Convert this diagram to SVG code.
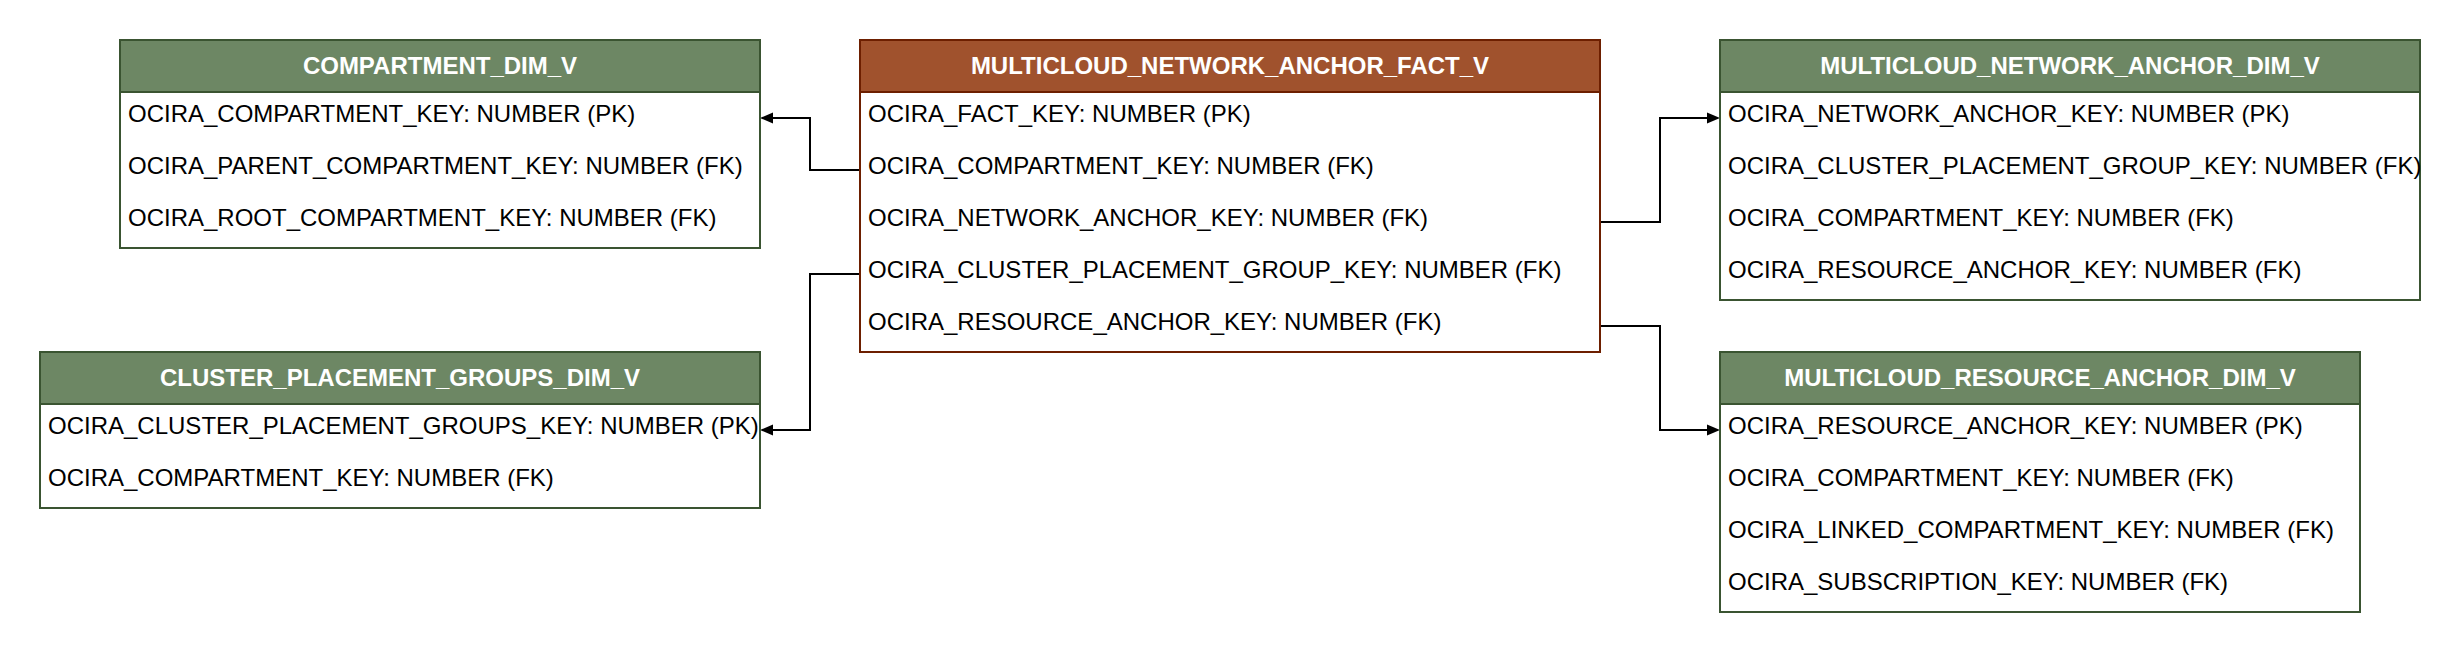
<svg xmlns="http://www.w3.org/2000/svg" width="2460" height="652" viewBox="0 0 2460 652">
<style>
  .box { fill: #ffffff; stroke-width: 2; }
  .dim { stroke: #3a5431; }
  .dimh { fill: #6d8764; stroke: #3a5431; stroke-width: 2; }
  .fact { stroke: #6d1f00; }
  .facth { fill: #a0522d; stroke: #6d1f00; stroke-width: 2; }
  .title { font-family: "Liberation Sans", Arial, Helvetica, sans-serif; font-size: 24px; font-weight: bold; fill: #ffffff; text-anchor: middle; }
  .row { font-family: "Liberation Sans", Arial, Helvetica, sans-serif; font-size: 24px; fill: #000000; }
  .conn { fill: none; stroke: #000000; stroke-width: 2; }
</style>
<defs>
  <marker id="arrow" markerUnits="userSpaceOnUse" markerWidth="14" markerHeight="12" refX="0" refY="6" orient="auto">
    <path d="M0,0.5 L13,6 L0,11.5 z" fill="#000000"/>
  </marker>
</defs>
<rect width="2460" height="652" fill="#ffffff"/>

<g id="connectors">
  <path class="conn" d="M860,170 H810 V118 H773" marker-end="url(#arrow)"/>
  <path class="conn" d="M860,274 H810 V430 H773" marker-end="url(#arrow)"/>
  <path class="conn" d="M1600,222 H1660 V118 H1707" marker-end="url(#arrow)"/>
  <path class="conn" d="M1600,326 H1660 V430 H1707" marker-end="url(#arrow)"/>
</g>

<g id="compartment_dim_v">
  <rect class="box dim" x="120" y="40" width="640" height="208"/>
  <rect class="dimh" x="120" y="40" width="640" height="52"/>
  <text class="title" x="440" y="74">COMPARTMENT_DIM_V</text>
  <text class="row" x="128" y="122">OCIRA_COMPARTMENT_KEY: NUMBER (PK)</text>
  <text class="row" x="128" y="174">OCIRA_PARENT_COMPARTMENT_KEY: NUMBER (FK)</text>
  <text class="row" x="128" y="226">OCIRA_ROOT_COMPARTMENT_KEY: NUMBER (FK)</text>
</g>

<g id="multicloud_network_anchor_fact_v">
  <rect class="box fact" x="860" y="40" width="740" height="312"/>
  <rect class="facth" x="860" y="40" width="740" height="52"/>
  <text class="title" x="1230" y="74">MULTICLOUD_NETWORK_ANCHOR_FACT_V</text>
  <text class="row" x="868" y="122">OCIRA_FACT_KEY: NUMBER (PK)</text>
  <text class="row" x="868" y="174">OCIRA_COMPARTMENT_KEY: NUMBER (FK)</text>
  <text class="row" x="868" y="226">OCIRA_NETWORK_ANCHOR_KEY: NUMBER (FK)</text>
  <text class="row" x="868" y="278">OCIRA_CLUSTER_PLACEMENT_GROUP_KEY: NUMBER (FK)</text>
  <text class="row" x="868" y="330">OCIRA_RESOURCE_ANCHOR_KEY: NUMBER (FK)</text>
</g>

<g id="multicloud_network_anchor_dim_v">
  <rect class="box dim" x="1720" y="40" width="700" height="260"/>
  <rect class="dimh" x="1720" y="40" width="700" height="52"/>
  <text class="title" x="2070" y="74">MULTICLOUD_NETWORK_ANCHOR_DIM_V</text>
  <text class="row" x="1728" y="122">OCIRA_NETWORK_ANCHOR_KEY: NUMBER (PK)</text>
  <text class="row" x="1728" y="174">OCIRA_CLUSTER_PLACEMENT_GROUP_KEY: NUMBER (FK)</text>
  <text class="row" x="1728" y="226">OCIRA_COMPARTMENT_KEY: NUMBER (FK)</text>
  <text class="row" x="1728" y="278">OCIRA_RESOURCE_ANCHOR_KEY: NUMBER (FK)</text>
</g>

<g id="cluster_placement_groups_dim_v">
  <rect class="box dim" x="40" y="352" width="720" height="156"/>
  <rect class="dimh" x="40" y="352" width="720" height="52"/>
  <text class="title" x="400" y="386">CLUSTER_PLACEMENT_GROUPS_DIM_V</text>
  <text class="row" x="48" y="434">OCIRA_CLUSTER_PLACEMENT_GROUPS_KEY: NUMBER (PK)</text>
  <text class="row" x="48" y="486">OCIRA_COMPARTMENT_KEY: NUMBER (FK)</text>
</g>

<g id="multicloud_resource_anchor_dim_v">
  <rect class="box dim" x="1720" y="352" width="640" height="260"/>
  <rect class="dimh" x="1720" y="352" width="640" height="52"/>
  <text class="title" x="2040" y="386">MULTICLOUD_RESOURCE_ANCHOR_DIM_V</text>
  <text class="row" x="1728" y="434">OCIRA_RESOURCE_ANCHOR_KEY: NUMBER (PK)</text>
  <text class="row" x="1728" y="486">OCIRA_COMPARTMENT_KEY: NUMBER (FK)</text>
  <text class="row" x="1728" y="538">OCIRA_LINKED_COMPARTMENT_KEY: NUMBER (FK)</text>
  <text class="row" x="1728" y="590">OCIRA_SUBSCRIPTION_KEY: NUMBER (FK)</text>
</g>
</svg>
